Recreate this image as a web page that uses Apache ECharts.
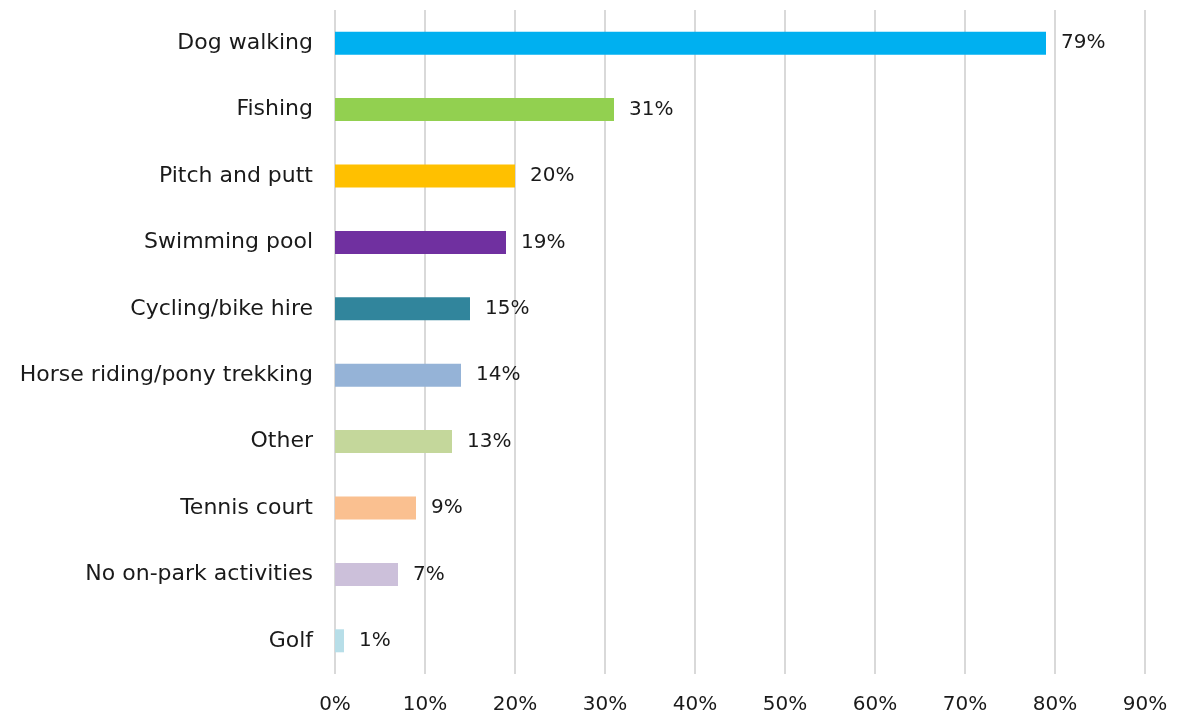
<!DOCTYPE html>
<html>
<head>
<meta charset="utf-8">
<script src="https://cdn.jsdelivr.net/npm/echarts@6/dist/echarts.min.js"></script>
<style>
  html, body { margin: 0; padding: 0; background: #ffffff; }
  #chart { width: 1178px; height: 719px; }
</style>
</head>
<body>
<div id="chart"></div>
<script>
// Share of respondents taking part in each on-park activity (%)
const categories = [
  'Dog walking', 'Fishing', 'Pitch and putt', 'Swimming pool', 'Cycling/bike hire',
  'Horse riding/pony trekking', 'Other', 'Tennis court', 'No on-park activities', 'Golf'
];
const values = [79, 31, 20, 19, 15, 14, 13, 9, 7, 1];
const barColors = [
  '#00b0f0', '#92d050', '#ffc000', '#7030a0', '#31859c',
  '#95b3d7', '#c4d79b', '#fac090', '#ccc0da', '#b7dee8'
];
const xTicks = [0, 10, 20, 30, 40, 50, 60, 70, 80, 90];

const FONT = '"DejaVu Sans", "Noto Sans", sans-serif';
const TEXT = '#1a1a1a';
const chart = echarts.init(document.getElementById('chart'));

chart.setOption({
  animation: false,
  grid: { left: 335, right: 33, top: 10, bottom: 45, containLabel: false },
  xAxis: {
    type: 'value',
    min: xTicks[0],
    max: xTicks[xTicks.length - 1],
    interval: 10,
    axisLine: { show: false },
    axisTick: { show: false },
    splitLine: { show: true, lineStyle: { color: '#d9d9d9', width: 2 } },
    axisLabel: {
      formatter: v => v + '%',
      color: TEXT, fontFamily: FONT, fontSize: 20, margin: 21
    }
  },
  yAxis: {
    type: 'category',
    inverse: true,
    data: categories,
    axisLine: { show: false },
    axisTick: { show: false },
    axisLabel: { color: TEXT, fontFamily: FONT, fontSize: 22, margin: 22 }
  },
  series: [{
    type: 'bar',
    barWidth: 23,
    data: values.map((v, i) => ({ value: v, itemStyle: { color: barColors[i] } })),
    label: {
      show: true,
      position: 'right',
      distance: 15,
      formatter: p => p.value + '%',
      color: TEXT, fontFamily: FONT, fontSize: 20
    }
  }]
});
</script>
</body>
</html>
